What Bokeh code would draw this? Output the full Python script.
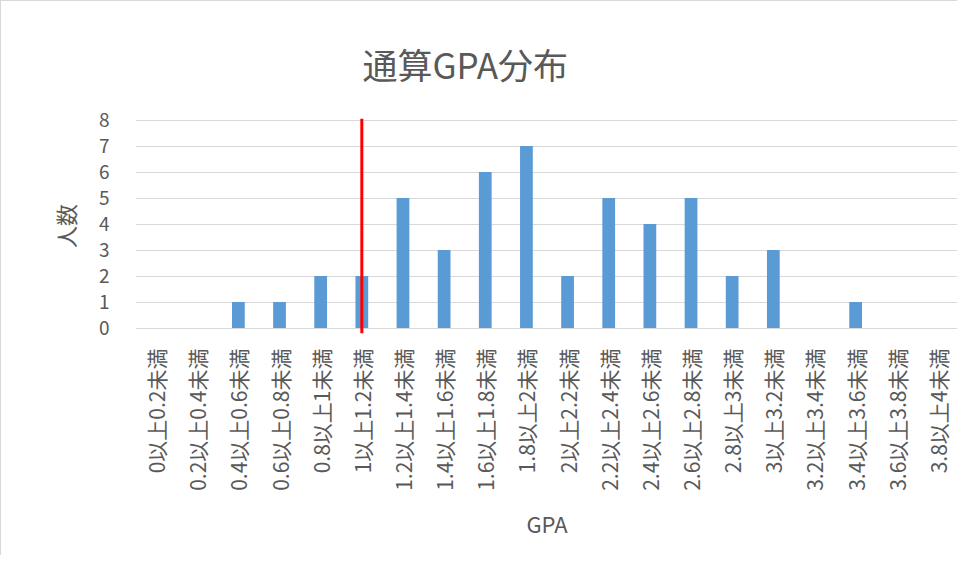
from bokeh.plotting import figure
from bokeh.models import ColumnDataSource, Range1d, FactorRange
from bokeh.embed import file_html
from bokeh.resources import INLINE
import math

categories = ["0以上0.2未満", "0.2以上0.4未満", "0.4以上0.6未満", "0.6以上0.8未満",
              "0.8以上1未満", "1以上1.2未満", "1.2以上1.4未満", "1.4以上1.6未満",
              "1.6以上1.8未満", "1.8以上2未満", "2以上2.2未満", "2.2以上2.4未満",
              "2.4以上2.6未満", "2.6以上2.8未満", "2.8以上3未満", "3以上3.2未満",
              "3.2以上3.4未満", "3.4以上3.6未満", "3.6以上3.8未満", "3.8以上4未満"]
counts = [0, 0, 1, 1, 2, 2, 5, 3, 6, 7, 2, 5, 4, 5, 2, 3, 0, 1, 0, 0]
y_ticks = [0, 1, 2, 3, 4, 5, 6, 7, 8]
marker_category = "1以上1.2未満"
marker_y = [-0.2, 8.05]

FONT = "Noto Sans CJK JP"
GREY = "#595959"

p = figure(width=957, height=555, x_range=FactorRange(*categories),
           y_range=Range1d(-0.25, 8.1), output_backend="svg",
           toolbar_location=None, min_border_left=134, min_border_right=0,
           min_border_top=116, min_border_bottom=222)
p.outline_line_color = None
p.styles = {"border-left": "1px solid #d9d9d9", "border-top": "1px solid #d9d9d9"}

src = ColumnDataSource(dict(x=categories, top=counts))
p.vbar(x="x", top="top", width=0.31, source=src, color="#5B9BD5", line_color=None)
p.line(x=[marker_category, marker_category], y=marker_y, line_color="#FF0000", line_width=3)

p.title.text = "通算GPA分布"
p.title.text_font = FONT
p.title.text_font_size = "35px"
p.title.text_font_style = "normal"
p.title.text_color = GREY
p.title.align = "left"
p.title.offset = 227
p.title.standoff = 58

p.xgrid.grid_line_color = None
p.ygrid.grid_line_color = "#D9D9D9"
p.ygrid.grid_line_width = 1
p.yaxis.ticker = y_ticks

for ax in (p.xaxis, p.yaxis):
    ax.axis_line_color = None
    ax.major_tick_line_color = None
    ax.minor_tick_line_color = None
    ax.major_label_text_font = FONT
    ax.major_label_text_color = GREY
    ax.axis_label_text_font = FONT
    ax.axis_label_text_color = GREY
    ax.axis_label_text_font_style = "normal"

p.yaxis.axis_label = "人数"
p.yaxis.major_label_text_font_size = "19px"
p.yaxis.axis_label_text_font_size = "22px"
p.yaxis.major_label_standoff = 20
p.yaxis.axis_label_standoff = 15

p.xaxis.axis_label = "GPA"
p.xaxis.major_label_text_font_size = "21px"
p.xaxis.axis_label_text_font_size = "22px"
p.xaxis.major_label_orientation = math.pi / 2
p.xaxis.major_label_standoff = 8
p.xaxis.axis_label_standoff = 13

open("out.html", "w").write(file_html(p, INLINE))
